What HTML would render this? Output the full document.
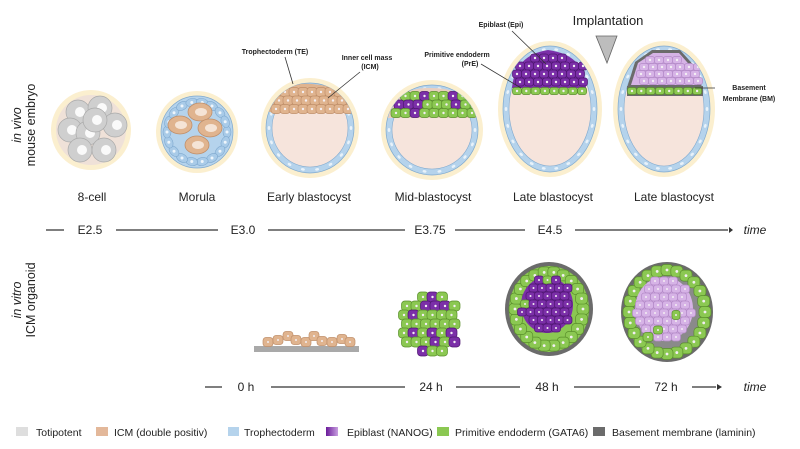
<!DOCTYPE html>
<html><head><meta charset="utf-8"><style>
html,body{margin:0;padding:0;background:#fff;}
svg{display:block;font-family:"Liberation Sans",Arial,sans-serif;}
</style></head><body>
<svg id="s" width="800" height="449" viewBox="0 0 800 449" xmlns="http://www.w3.org/2000/svg">
<defs>
<linearGradient id="epg" x1="0" x2="1"><stop offset="0" stop-color="#6a1b9a"/><stop offset="1" stop-color="#c9a0e0"/></linearGradient>
<clipPath id="c3"><ellipse cx="310" cy="128" rx="44" ry="45"/></clipPath>
<clipPath id="c4"><ellipse cx="432" cy="130" rx="46" ry="45"/></clipPath>
<clipPath id="c5"><ellipse cx="550" cy="109" rx="47" ry="63"/></clipPath>
<clipPath id="c6"><ellipse cx="664" cy="109" rx="46" ry="63"/></clipPath>
</defs>
<g id="g"></g>
<g font-size="12" fill="#222" text-anchor="middle">
<text x="92" y="201">8-cell</text>
<text x="197" y="201">Morula</text>
<text x="309" y="201">Early blastocyst</text>
<text x="433" y="201">Mid-blastocyst</text>
<text x="553" y="201">Late blastocyst</text>
<text x="674" y="201">Late blastocyst</text>
<text x="608" y="25" font-size="13">Implantation</text>
</g>
<polygon points="596,36 617,36 607,63" fill="#bdbdbd" stroke="#666" stroke-width="0.8"/>
<g font-size="12.5" fill="#222" transform="translate(21,125) rotate(-90)" text-anchor="middle">
<text x="0" y="0" font-style="italic">in vivo</text><text x="0" y="14">mouse embryo</text></g>
<g font-size="12.5" fill="#222" transform="translate(21,300) rotate(-90)" text-anchor="middle">
<text x="0" y="0" font-style="italic">in vitro</text><text x="0" y="14">ICM organoid</text></g>
<g stroke="#333" stroke-width="1.2">
<line x1="46" y1="230" x2="64" y2="230"/><line x1="116" y1="230" x2="218" y2="230"/>
<line x1="268" y1="230" x2="405" y2="230"/><line x1="455" y1="230" x2="525" y2="230"/>
<line x1="575" y1="230" x2="728" y2="230"/>
<line x1="205" y1="387" x2="222" y2="387"/><line x1="271" y1="387" x2="405" y2="387"/>
<line x1="456" y1="387" x2="520" y2="387"/><line x1="574" y1="387" x2="640" y2="387"/>
<line x1="692" y1="387" x2="716" y2="387"/>
</g>
<polygon points="729,227 733,230 729,233" fill="#333"/>
<polygon points="717,384 722,387 717,390" fill="#333"/>
<g font-size="12" fill="#222" text-anchor="middle">
<text x="90" y="234">E2.5</text><text x="243" y="234">E3.0</text><text x="430" y="234">E3.75</text><text x="550" y="234">E4.5</text>
<text x="755" y="234" font-style="italic">time</text>
<text x="246" y="391">0 h</text><text x="431" y="391">24 h</text><text x="547" y="391">48 h</text><text x="666" y="391">72 h</text>
<text x="755" y="391" font-style="italic">time</text>
</g>
<g font-size="7" font-weight="bold" fill="#222" text-anchor="middle">
<text x="275" y="54">Trophectoderm (TE)</text>
<text x="367" y="60">Inner cell mass</text><text x="370" y="69">(ICM)</text>
<text x="501" y="27">Epiblast (Epi)</text>
<text x="457" y="57">Primitive endoderm</text><text x="470" y="66">(PrE)</text>
<text x="749" y="90">Basement</text><text x="749" y="101">Membrane (BM)</text>
</g>
<g stroke="#333" stroke-width="0.8" fill="none">
<line x1="285" y1="57" x2="293" y2="84"/>
<line x1="360" y1="72" x2="328" y2="98"/>
<line x1="512" y1="31" x2="546" y2="64"/>
<line x1="481" y1="64" x2="521" y2="88"/>
<line x1="695" y1="88" x2="715" y2="88"/>
</g>
<g font-size="10.5" fill="#222">
<rect x="16" y="427" width="12" height="9" fill="#dedede"/><text x="36" y="436">Totipotent</text>
<rect x="96" y="427" width="12" height="9" fill="#e3b89a"/><text x="114" y="436">ICM (double positiv)</text>
<rect x="228" y="427" width="11" height="9" fill="#b5d3ec"/><text x="244" y="436">Trophectoderm</text>
<rect x="326" y="427" width="12" height="9" fill="url(#epg)"/><text x="347" y="436">Epiblast (NANOG)</text>
<rect x="437" y="427" width="12" height="9" fill="#8bc852"/><text x="455" y="436">Primitive endoderm (GATA6)</text>
<rect x="593" y="427" width="12" height="9" fill="#6b6b6b"/><text x="612" y="436">Basement membrane (laminin)</text>
</g>
</svg>
<script>
const g=document.getElementById('g');const NS='http://www.w3.org/2000/svg';
function el(t,a,p){const e=document.createElementNS(NS,t);for(const k in a)e.setAttribute(k,a[k]);(p||g).appendChild(e);return e;}
function cell(x,y,w,h,f,s,nuc,p){el('rect',{x:x-w/2,y:y-h/2,width:w,height:h,rx:Math.min(w,h)/3,fill:f,stroke:s,'stroke-width':0.7},p);el('circle',{cx:x,cy:y,r:nuc||1.2,fill:'#f3eef3'},p);}
function rnd(i){let x=Math.sin(i*12.9898+1.7)*43758.5453;return x-Math.floor(x);}
const TE='#b5d3ec',TEs='#7fa9cf',ICM='#e0b48f',ICMs='#c08f6a',EP='#7b2fa8',EPs='#4e1670',PE='#8bc852',PEs='#5a8f2b',LEP='#d6b3e6',LEPs='#b48ac8',BM='#6b6b6b';
function zona(cx,cy,rx,ry){el('ellipse',{cx,cy,rx:rx+5,ry:ry+5,fill:'#fbefcf'});}
function ring(cx,cy,rx,ry,n){el('ellipse',{cx,cy,rx,ry,fill:TE,stroke:TEs,'stroke-width':0.7});
 el('ellipse',{cx,cy,rx:rx-6,ry:ry-6,fill:'#f6e4dc',stroke:TEs,'stroke-width':0.6});
 for(let i=0;i<n;i++){const a=i/n*Math.PI*2;const x=cx+(rx-3)*Math.cos(a),y=cy+(ry-3)*Math.sin(a);el('ellipse',{cx:x,cy:y,rx:1.3,ry:2,fill:'#e8f2fa',transform:`rotate(${a*180/Math.PI} ${x} ${y})`});}}
// 8-cell
zona(91,130,35,35);el('circle',{cx:91,cy:130,r:35,fill:'#efe1d8'});
[[78,112],[100,108],[70,130],[115,125],[88,133],[80,150],[104,150],[95,120]].forEach(([x,y])=>{el('circle',{cx:x,cy:y,r:12,fill:'#cfcfcf',stroke:'#aaa','stroke-width':0.7});el('circle',{cx:x+2,cy:y,r:5,fill:'#fafafa'});});
// morula
zona(197,132,36,36);el('circle',{cx:197,cy:132,r:36,fill:TE,stroke:TEs,'stroke-width':0.7});
for(let i=0;i<18;i++){const a=i/18*Math.PI*2;const x=197+30*Math.cos(a),y=132+30*Math.sin(a);el('ellipse',{cx:x,cy:y,rx:6,ry:4,fill:'#a9cbe8',stroke:TEs,'stroke-width':0.6,transform:`rotate(${a*180/Math.PI+90} ${x} ${y})`});el('circle',{cx:x,cy:y,r:1.5,fill:'#eef5fb'});}
[[180,125],[200,112],[210,128],[197,145]].forEach(([x,y])=>{el('ellipse',{cx:x,cy:y,rx:12,ry:9,fill:ICM,stroke:ICMs,'stroke-width':0.8});el('ellipse',{cx:x+1,cy:y,rx:6,ry:4,fill:'#f5e4d6'});});
// early blastocyst
zona(310,128,44,45);ring(310,128,44,45,18);
{const p=el('g',{'clip-path':'url(#c3)'});el('path',{d:'M268,112 L270,95 Q290,82 312,84 Q340,86 352,100 L352,112 Z',fill:ICM},p);for(let r=0;r<3;r++)for(let c=0;c<9;c++){if(r==0&&(c<1||c>7))continue;cell(276+c*9+(r%2)*3,92+r*8.5,10,9,ICM,ICMs,1.2,p);}}
// mid blastocyst
zona(432,130,46,45);ring(432,130,46,45,18);
{const p=el('g',{'clip-path':'url(#c4)'});el('path',{d:'M388,118 L392,100 Q410,87 432,88 Q458,88 474,104 L476,118 Z',fill:'#e8cfc0'},p);let k=0;for(let r=0;r<3;r++)for(let c=0;c<9;c++){k++;const x=396+c*9.5+(r%2)*3,y=96+r*8.5;if(r==0&&(c<1||c>7))continue;const e=rnd(k)>0.5;cell(x,y,10,9,e?EP:PE,e?EPs:PEs,1.2,p);}}
// late blastocyst 1
zona(550,109,47,63);ring(550,109,47,63,22);
{const p=el('g',{'clip-path':'url(#c5)'});
el('path',{d:'M512,88 Q515,55 548,50 Q585,55 586,88 Z',fill:EP},p);
for(let r=0;r<4;r++)for(let c=0;c<8;c++){const x=517+c*9+(r%2)*3,y=58+r*8;if((r==0&&(c<2||c>5)))continue;cell(x,y,9,8,EP,EPs,1.2,p);}
for(let c=0;c<8;c++)cell(517+c*9.3,91,9,7,PE,PEs,1.2,p);}
// late blastocyst 2
zona(664,109,46,63);ring(664,109,46,63,22);
{const p=el('g',{'clip-path':'url(#c6)'});
el('path',{d:'M627,88 L635,62 L652,50 L680,50 L698,70 L702,88 Z',fill:BM},p);
el('path',{d:'M631,85 L638,63 L653,53 L679,53 L694,70 L697,85 Z',fill:LEP},p);
for(let r=0;r<4;r++)for(let c=0;c<7;c++){const x=641+c*9+(r%2)*3,y=60+r*7;if(r==0&&(c<1||c>4))continue;cell(x,y,9,7,LEP,LEPs,1.2,p);}
el('rect',{x:627,y:86,width:76,height:10,fill:BM},p);for(let c=0;c<8;c++)cell(632+c*9.3,91,9,7,PE,PEs,1.2,p);}
// 0h
el('rect',{x:254,y:346,width:105,height:6,fill:'#a9a9a9'});
[[268,342],[278,340],[288,336],[296,340],[306,342],[314,336],[322,341],[332,342],[342,339],[350,342]].forEach(([x,y])=>cell(x,y,10,9,ICM,ICMs,1,null));
// 24h
{let k=0;for(let r=0;r<7;r++)for(let c=0;c<7;c++){k++;const x=404+c*9.5+(r%2)*3,y=297+r*9;const dx=(x-430)/31,dy=(y-324)/30;if(dx*dx+dy*dy>1)continue;const e=rnd(k)>0.5;cell(x,y,11,10,e?EP:PE,e?EPs:PEs,1.2,null);}}
// 48h
el('ellipse',{cx:549,cy:309,rx:44,ry:47,fill:BM});el('ellipse',{cx:549,cy:309,rx:40,ry:43,fill:PE});
for(let i=0;i<22;i++){const a=i/22*Math.PI*2;cell(549+34*Math.cos(a),309+37*Math.sin(a),12,11,PE,PEs,1.4,null);}
el('ellipse',{cx:547,cy:305,rx:26,ry:28,fill:EP});
{let k=0;for(let r=0;r<7;r++)for(let c=0;c<7;c++){k++;const x=522+c*8.5+(r%2)*3,y=280+r*8;const dx=(x-547)/26,dy=(y-305)/28;if(dx*dx+dy*dy>1)continue;const e=rnd(k+60)>0.15;cell(x,y,9,8,e?EP:PE,e?EPs:PEs,1,null);}}
// 72h
el('ellipse',{cx:667,cy:312,rx:46,ry:50,fill:BM});el('ellipse',{cx:667,cy:312,rx:42,ry:46,fill:'#8a8a8a'});
for(let i=0;i<24;i++){const a=i/24*Math.PI*2;cell(667+38*Math.cos(a),312+42*Math.sin(a),12,11,PE,PEs,1.4,null);}
el('ellipse',{cx:664,cy:309,rx:29,ry:32,fill:LEP});
{for(let r=0;r<8;r++)for(let c=0;c<7;c++){const x=637+c*9+(r%2)*3,y=281+r*8;const dx=(x-664)/28,dy=(y-309)/31;if(dx*dx+dy*dy>1)continue;cell(x,y,9,8,LEP,LEPs,1,null);}}
cell(676,315,8,9,PE,PEs,1,null);cell(648,337,10,9,PE,PEs,1,null);cell(658,330,9,8,PE,PEs,1,null);
</script>
</body></html>
